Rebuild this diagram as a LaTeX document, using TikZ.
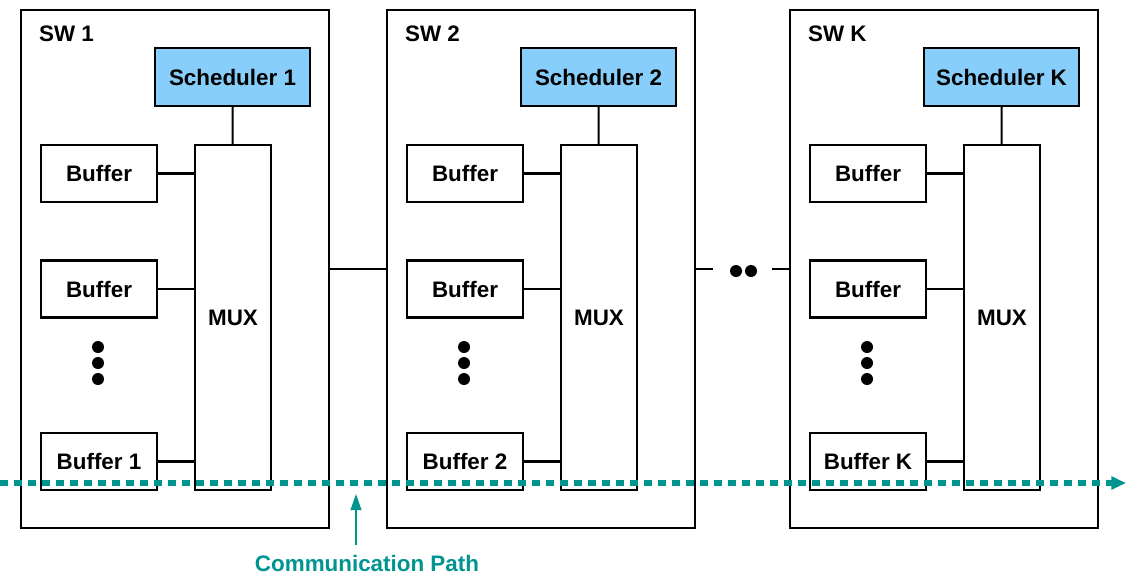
\documentclass[tikz,border=0pt]{standalone}
\usepackage{fontspec}
\setmainfont{Liberation Sans}
\usetikzlibrary{arrows.meta}

\definecolor{pathteal}{RGB}{0,148,143}
\definecolor{schedblue}{RGB}{135,206,250}

\tikzset{
  swbox/.style={draw,minimum width=231pt,minimum height=388.5pt,inner sep=0pt},
  schedbox/.style={draw,fill=schedblue,minimum width=116.25pt,minimum height=43.5pt,inner sep=0pt},
  muxbox/.style={draw,fill=white,minimum width=57pt,minimum height=258.75pt,inner sep=0pt},
  bufbox/.style={draw,fill=white,minimum width=87pt,minimum height=42.75pt,inner sep=0pt},
  dot/.style={circle,fill,inner sep=0pt,minimum size=9pt},
  commpath/.style={pathteal,line width=4pt,dash pattern=on 6pt off 4.5pt,
    -{Triangle[length=11pt,width=9.5pt]}},
  pointer/.style={pathteal,line width=1.5pt,-{Triangle[length=12pt,width=8pt]}}
}

\begin{document}
\begin{tikzpicture}[x=0.75pt,y=-0.75pt,line width=1.6pt,
    every node/.append style={font=\fontsize{16.8}{19}\selectfont\bfseries}]

  \useasboundingbox (0,0) rectangle (1126,575);

  \foreach \i/\dx/\lab in {1/0/1,2/366/2,k/769/K} {
    \begin{scope}[shift={(\dx,0)}]
      \node[swbox] (sw\i) at (175,269) {};
      \node[anchor=base west,inner sep=0pt] (swlab\i) at (38,41) {SW \lab};
      \node[schedbox] (sched\i) at (232.5,77) {Scheduler \lab};
      \node[muxbox] (mux\i) at (233,317.5) {MUX};
      \node[bufbox] (bufa\i) at (99,173.5) {Buffer};
      \node[bufbox] (bufb\i) at (99,289) {Buffer};
      \node[bufbox] (bufc\i) at (99,461.5) {Buffer \lab};
      \foreach \y [count=\j] in {347,363,379}
        \node[dot] (vdot\i\j) at (98,\y) {};

      \draw (sched\i) -- (mux\i);
      \foreach \b in {a,b,c}
        \draw (buf\b\i.east) -- (buf\b\i.east -| mux\i.west);
    \end{scope}
  }

  % links between the switches
  \coordinate (gapl) at (713,269);
  \coordinate (gapr) at (772,269);
  \node[dot] (gapa) at (736,271) {};
  \node[dot] (gapb) at (751,271) {};
  \draw (sw1) -- (sw2);
  \draw (sw2.east) -- (gapl);
  \draw (gapr) -- (swk.west);

  % communication path
  \coordinate (pathin) at (0,483);
  \coordinate (pathout) at (1126,483);
  \draw[commpath] (pathin) -- (pathout);

  \node[text=pathteal] (commlab) at (367,563) {Communication Path};
  \coordinate (pointfoot) at (356,545);
  \coordinate (pointtip) at (356,494);
  \draw[pointer] (pointfoot) -- (pointtip);

\end{tikzpicture}
\end{document}
